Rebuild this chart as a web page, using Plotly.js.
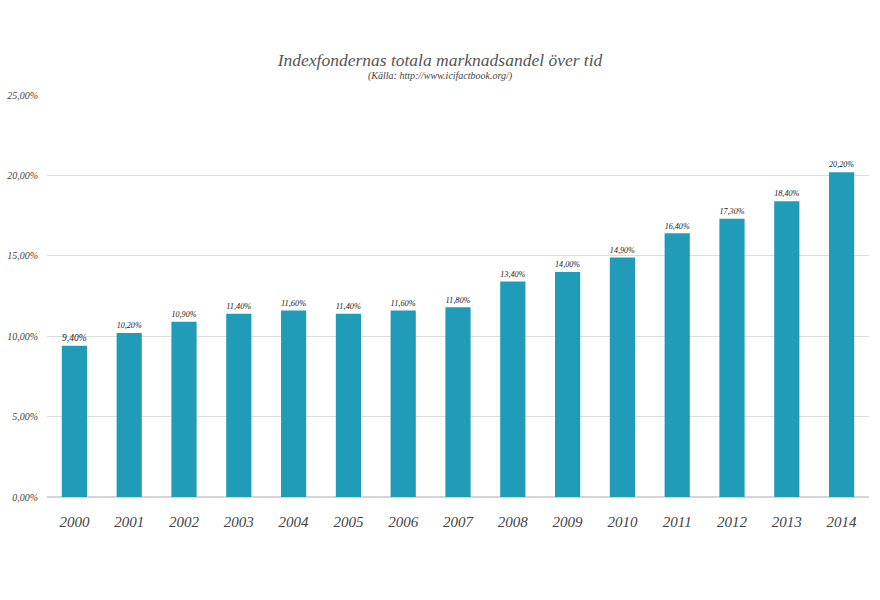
<!DOCTYPE html>
<html><head><meta charset="utf-8">
<script src="https://cdn.plot.ly/plotly-3.0.1.min.js"></script>
<style>body{margin:0;background:#fff}#chart{width:880px;height:600px}</style>
</head><body><div id="chart"></div>
<script>
const years = ['2000','2001','2002','2003','2004','2005','2006','2007','2008','2009','2010','2011','2012','2013','2014'];
const share = [9.4,10.2,10.9,11.4,11.6,11.4,11.6,11.8,13.4,14.0,14.9,16.4,17.3,18.4,20.2];
const yTicks = [0,5,10,15,20,25];
const yTickText = yTicks.map(v => v.toFixed(2).replace('.', ',') + '%');
const labels = share.map(v => v.toFixed(2).replace('.', ',') + '%');
const FONT = 'Liberation Serif, DejaVu Serif, serif';

Plotly.newPlot('chart', [{
  type: 'bar', x: years, y: share, text: labels,
  textposition: 'outside', cliponaxis: false,
  textfont: {family: FONT, size: 9.5, color: '#222', style: 'italic'},
  marker: {color: '#219cb8'}, hoverinfo: 'x+y'
}], {
  width: 880, height: 600,
  paper_bgcolor: '#fff', plot_bgcolor: '#fff',
  margin: {l: 47, r: 11, t: 95, b: 103},
  font: {family: FONT, style: 'italic', color: '#555'},
  bargap: 0.54,
  showlegend: false,
  title: {
    text: 'Indexfondernas totala marknadsandel över tid',
    font: {family: FONT, size: 17.5, color: '#555', style: 'italic'},
    x: 0.5, xanchor: 'center', xref: 'container', y: 0.9, yanchor: 'middle'
  },
  annotations: [{
    text: '(Källa: http://www.icifactbook.org/)', showarrow: false,
    xref: 'paper', yref: 'paper', x: (440 - 47) / 822, xanchor: 'center',
    y: (600 - 76 - 103) / (600 - 95 - 103), yanchor: 'middle',
    font: {family: FONT, size: 10, color: '#444', style: 'italic'}
  }],
  xaxis: {
    type: 'category', showgrid: false, zeroline: false, showline: false, ticks: '',
    tickfont: {family: FONT, size: 15, color: '#444', style: 'italic'},
    ticklabelstandoff: 14
  },
  yaxis: {
    range: [0, 25], tickvals: yTicks, ticktext: yTickText,
    showgrid: true, gridcolor: '#dddddd', gridwidth: 1,
    zeroline: true, zerolinecolor: '#d5d5d5', zerolinewidth: 2,
    showline: false, ticks: '',
    tickfont: {family: FONT, size: 10, color: '#444', style: 'italic'},
    ticklabelstandoff: 8
  }
}, {displayModeBar: false});
</script></body></html>
